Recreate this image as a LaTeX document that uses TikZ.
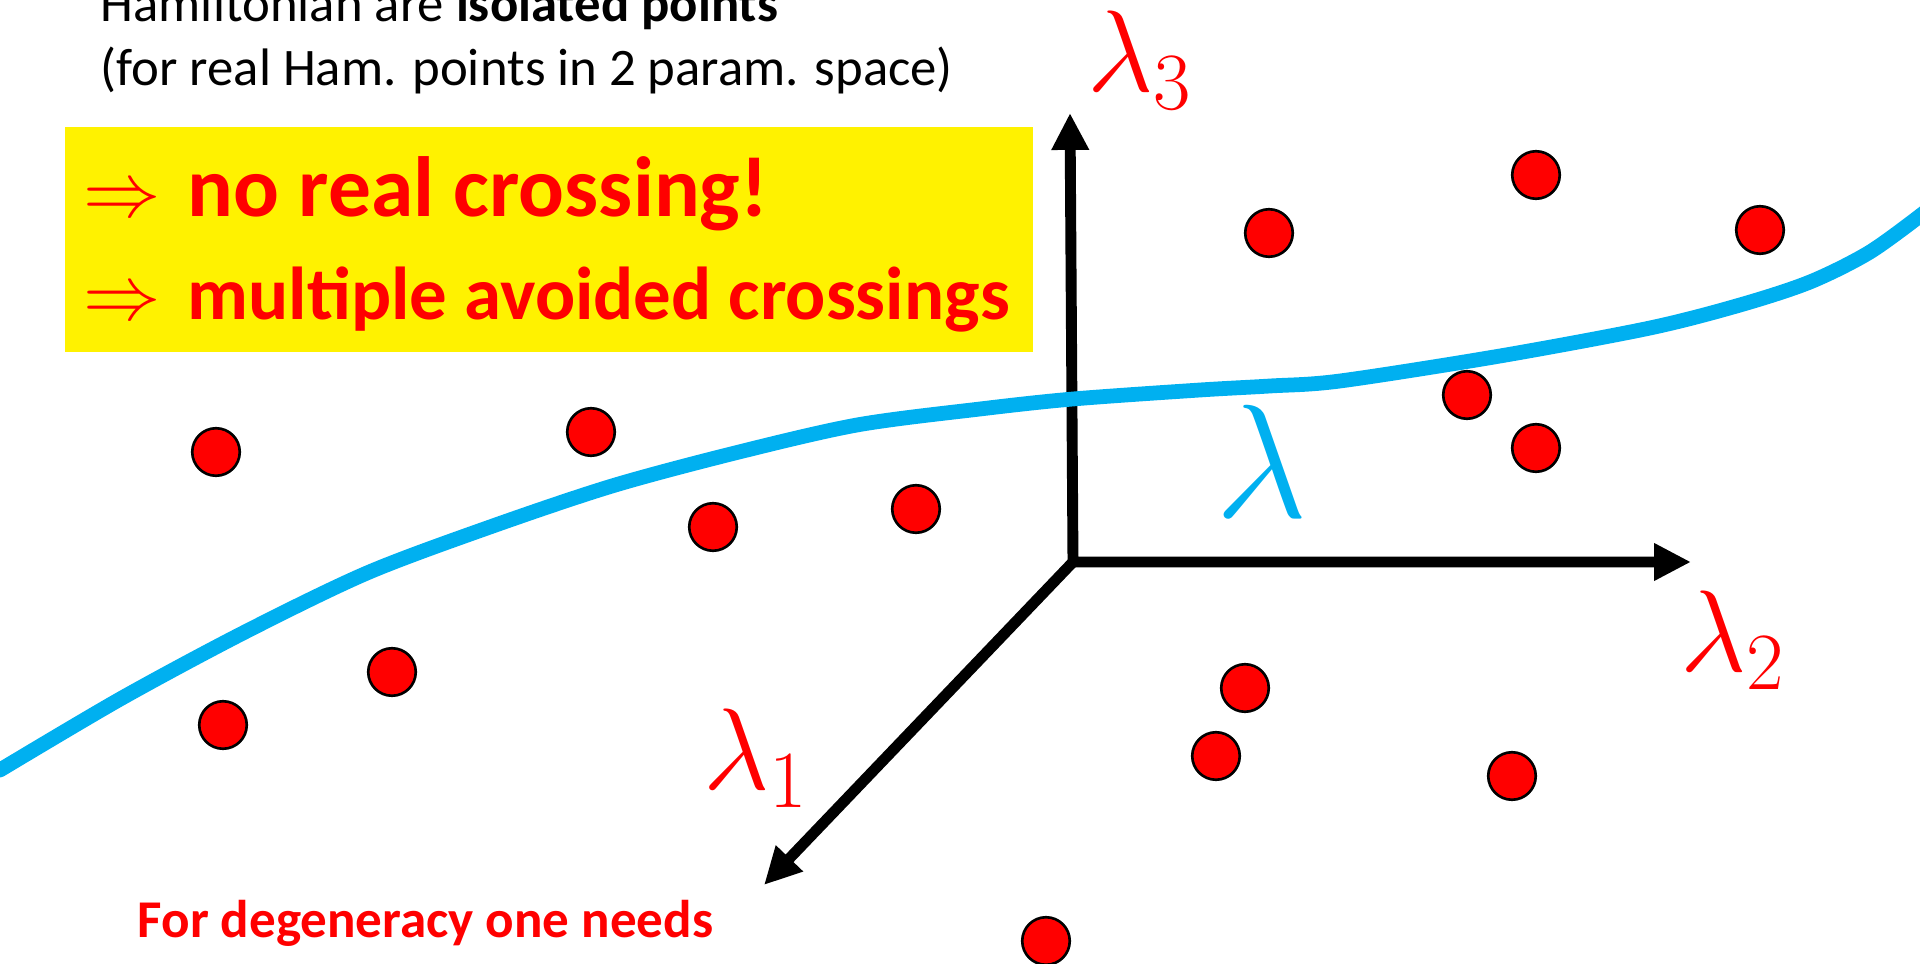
\RequirePackage{fix-cm}
\documentclass[tikz,border=0pt]{standalone}
\usepackage{fontspec}
\setmainfont{Carlito}
\usepackage{xcolor}
\usetikzlibrary{arrows.meta}
\definecolor{lamblue}{HTML}{00B0F0}

\begin{document}
\begin{tikzpicture}[x=0.01cm, y=-0.01cm,
    dot/.style={circle, draw=black, line width=0.75pt, fill=red, minimum size=0.475cm, inner sep=0pt},
    axis/.style={line width=3.1pt, black, line join=miter, >={Triangle[length=10.5pt, width=10pt]}},
    lamcurve/.style={lamblue, line width=4.2pt, line cap=round},
    txt/.style={anchor=base west, inner sep=0pt, font=\fontsize{15}{18}\selectfont},
    hl/.style={anchor=base west, inner sep=0pt, text=red, font=\bfseries\fontsize{#1}{#1}\selectfont},
    implies/.style={anchor=base west, inner sep=0pt, text=red, font=\fontsize{22}{22}\selectfont},
    axlabel/.style={anchor=base west, inner sep=0pt, text=#1, font=\fontsize{33}{33}\selectfont}
]
    \useasboundingbox (0,0) rectangle (1920,964);
    \clip (0,0) rectangle (1920,964);

    \node[txt] (title) at (100,22) {Hamiltonian are \textbf{isolated points}};
    \node[txt] (subtitle) at (100,86) {(for real Ham. points in 2 param. space)};

    \node[fill=yellow, anchor=north west, minimum width=9.68cm, minimum height=2.25cm, inner sep=0pt] (box) at (64,126) {};
    \node[implies] (imp1) at (83,217) {$\Rightarrow$};
    \node[hl=24.3] (row1) at (187,217) {no real crossing!};
    \node[implies] (imp2) at (83,320) {$\Rightarrow$};
    \node[hl=21.3] (row2) at (187,320) {multiple avoided crossings};

    \node[hl=15.1] (needs) at (137,938) {For degeneracy one needs};

    \foreach \x/\y [count=\i] in {1536/175, 1269/233, 1760/230, 1467/395, 1536/448,
        216/452, 591/432, 713/527, 916/509, 392/672, 223/725,
        1245/688, 1216/756, 1512/776, 1046/941}
        \node[dot] (d\i) at (\x,\y) {};

    \coordinate (O) at (1073,562);
    \coordinate (e3) at (1070,113);
    \coordinate (e2) at (1691,562);
    \coordinate (e1) at (764,885);
    \draw[axis, <->] (e3) -- (O) -- (e2);
    \draw[axis, ->] (O) -- (e1);

    \draw[lamcurve] plot[smooth, tension=0.5] coordinates {(0,770) (122,698) (245,632) (367,573)
        (490,527) (612,486) (735,453) (857,425) (980,409) (1073,399) (1200,390) (1270,386)
        (1340,381) (1500,356) (1650,328) (1740,305) (1810,282) (1870,252) (1925,212)};

    \node[axlabel=red] (l3) at (1087,92) {$\lambda_3$};
    \node[axlabel=red] (l2) at (1680,672) {$\lambda_2$};
    \node[axlabel=red] (l1) at (703,790) {$\lambda_1$};
    \node[axlabel=lamblue, font=\fontsize{46}{46}\selectfont] (lam) at (1215,518) {$\lambda$};
\end{tikzpicture}
\end{document}
